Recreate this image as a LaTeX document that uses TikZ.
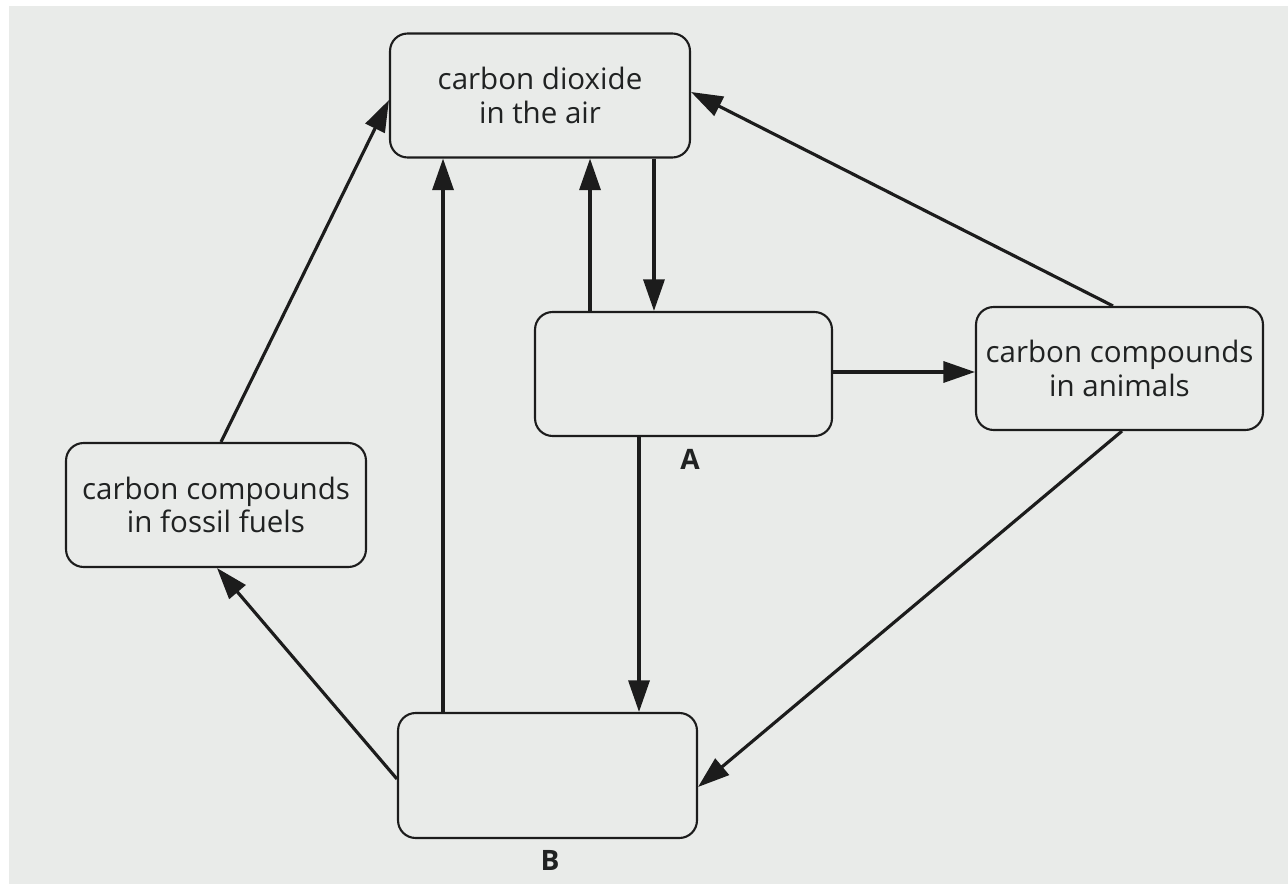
\documentclass[tikz,border=0pt]{standalone}
\usepackage{fontspec}
\setmainfont{Open Sans}
\usetikzlibrary{arrows.meta,calc}
\definecolor{paper}{RGB}{233,235,233}
\definecolor{ink}{RGB}{28,28,28}
\definecolor{txt}{RGB}{32,34,34}
\tikzset{
  box/.style={draw=ink, line width=1.2pt, rounded corners=10pt, minimum height=2.48cm,
    align=center, text=txt, font=\fontsize{16.8pt}{19pt}\selectfont, inner sep=0pt},
  arr/.style={draw=ink, line width=1.8pt, -{Triangle[length=18pt,width=12pt]}},
  lab/.style={text=txt, font=\fontsize{16pt}{18pt}\selectfont\bfseries, inner sep=0pt}
}
\begin{document}
\begin{tikzpicture}[x=0.02cm,y=-0.02cm]
\useasboundingbox (0,0) rectangle (1288,884);
\fill[white] (0,0) rectangle (1288,884);
\fill[paper] (9,6) rectangle (1288,884);

\node[box, minimum width=6cm] (co2) at (540,95.5) {carbon dioxide\\in the air};
\node[box, minimum width=5.94cm] (mid) at (683.5,374) {};
\node[box, minimum width=5.74cm, minimum height=2.46cm] (animals) at (1119.5,368.5) {carbon compounds\\in animals};
\node[box, minimum width=6cm] (fossil) at (216,505) {carbon compounds\\in fossil fuels};
\node[box, minimum width=5.98cm, minimum height=2.5cm] (b) at (547.5,775.5) {};

\node[lab] (labA) at (690,459) {A};
\node[lab] (labB) at (550,860) {B};

% fossil fuels -> CO2
\draw[arr] ([xshift=0.1cm]fossil.north) -- ([yshift=-0.09cm]co2.west);
% B -> CO2
\draw[arr] ([xshift=-2.09cm]b.north) coordinate (s2) -- (s2 |- co2.south);
% mid -> CO2
\draw[arr] ([xshift=-1.87cm]mid.north) coordinate (s3) -- (s3 |- co2.south);
% CO2 -> mid
\draw[arr] ([xshift=2.28cm]co2.south) coordinate (s4) -- (s4 |- mid.north);
% mid -> animals
\draw[arr] ([yshift=0.04cm]mid.east) coordinate (s5) -- (s5 -| animals.west);
% animals -> CO2
\draw[arr] ([xshift=-0.13cm]animals.north) -- ([yshift=0.07cm]co2.east);
% animals -> B
\draw[arr] ([xshift=0.05cm]animals.south) -- ([yshift=-0.23cm]b.east);
% mid -> B
\draw[arr] ([xshift=-0.89cm]mid.south) coordinate (s8) -- (s8 |- b.north);
% B -> fossil fuels
\draw[arr] ([yshift=-0.07cm]b.west) -- ([xshift=0.02cm]fossil.south);
\end{tikzpicture}
\end{document}
